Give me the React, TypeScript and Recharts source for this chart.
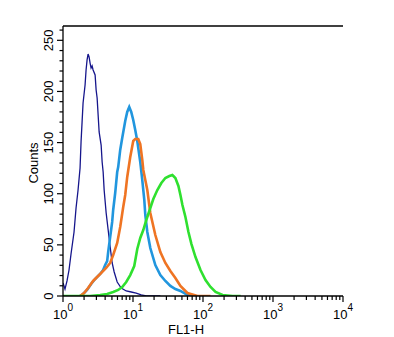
import React from "react";
import { LineChart, Line, XAxis, YAxis, ReferenceLine } from "recharts";

// FL1-H axis ticks (log decades with minors) and count ticks
const xTicks = [
  1, 2, 3, 4, 5, 6, 7, 8, 9,
  10, 20, 30, 40, 50, 60, 70, 80, 90,
  100, 200, 300, 400, 500, 600, 700, 800, 900,
  1000, 2000, 3000, 4000, 5000, 6000, 7000, 8000, 9000,
  10000,
];
const yTicks = [0, 10, 20, 30, 40, 50, 60, 70, 80, 90, 100, 110, 120, 130, 140, 150, 160, 170, 180, 190, 200, 210, 220, 230, 240, 250, 260];

// navy (thin) histogram
const navyFl1 = [1.0, 1.034, 1.068, 1.141, 1.219, 1.302, 1.438, 1.536, 1.641, 1.753, 1.812, 1.873, 1.935, 2.067, 2.136, 2.208, 2.282, 2.359, 2.438, 2.52, 2.605, 2.692, 2.876, 2.973, 3.073, 3.176, 3.282, 3.506, 3.624, 3.746, 3.871, 4.136, 4.418, 4.719, 5.041, 5.385, 5.946, 6.785, 8.0, 9.44, 11.1, 13.1, 15.5, 24.6];
const navyCounts = [12.7, 9.8, 6.8, 14.7, 25.4, 41.1, 62.6, 86, 103.6, 125.2, 151, 170, 188.7, 206.3, 221, 230.8, 236.6, 233.7, 227.8, 222.9, 224.9, 221, 216.1, 201.4, 193.6, 177, 160.4, 147.6, 131, 121.2, 103.6, 81.2, 64.5, 47.9, 32.3, 23.5, 13.7, 7.8, 4.9, 3.9, 2.9, 1.0, 0, 0];

// light blue histogram
const blueFl1 = [1.753, 1.935, 2.208, 2.52, 2.876, 3.392, 3.746, 4.001, 4.274, 4.418, 4.719, 5.041, 5.21, 5.566, 5.946, 6.145, 6.565, 7.013, 7.743, 8.271, 8.838, 9.436, 10.08, 10.77, 11.51, 12.7, 13.57, 14.5, 14.99, 16.01, 17.67, 20.84, 24.59, 29.0, 34.2, 40.3, 47.6, 59.95, 78.1];
const blueCounts = [0, 2.0, 5.9, 11.7, 16.6, 21.5, 25.4, 30.3, 34.2, 43, 57.7, 72.4, 84.1, 100.7, 121.2, 126.1, 142.8, 154.5, 171.1, 179.9, 184.8, 179.9, 172.1, 162.3, 151.6, 131, 113.4, 93.9, 79.2, 62.6, 46.9, 30.3, 20.5, 14.7, 9.8, 6.8, 4.9, 1.0, 0];

// orange histogram
const orangeFl1 = [1.753, 2.0, 2.282, 2.692, 3.392, 4.136, 4.719, 5.21, 5.946, 6.565, 7.248, 7.743, 8.271, 9.133, 10.08, 10.77, 11.89, 12.7, 13.57, 14.03, 14.99, 16.01, 17.67, 20.84, 24.59, 29.0, 34.2, 40.3, 47.6, 59.95, 83.4, 128.1];
const orangeCounts = [0, 2.9, 7.8, 14.7, 21.5, 27.4, 32.3, 40.1, 51.8, 67.5, 87.0, 98.8, 116.4, 135.9, 151.6, 153.5, 153.5, 148.6, 133, 123.2, 113.4, 103.6, 81.2, 59.6, 43, 32.3, 24.4, 17.6, 9.8, 2.9, 0, 0];

// green histogram
const greenFl1 = [1.0, 2.438, 3.392, 4.274, 5.21, 6.145, 7.013, 8.002, 9.133, 10.42, 11.51, 12.7, 14.03, 15.49, 17.1, 19.51, 22.27, 25.41, 29.0, 33.09, 36.53, 40.3, 44.53, 47.6, 50.82, 56.1, 61.96, 68.41, 78.1, 92.1, 108.6, 128.1, 151.1, 190.4, 264.8, 344.9];
const greenCounts = [0, 0, 1, 2, 3.9, 5.9, 8.8, 13.7, 20.5, 29.3, 46, 56.7, 64.5, 74.3, 83.1, 94.8, 103.6, 110.5, 115.4, 117.3, 118.3, 115.4, 107.6, 98.8, 89.0, 77.2, 62.6, 50.8, 38.1, 25.4, 15.6, 8.8, 3.9, 1.0, 0, 0];

const toPoints = (xs: number[], ys: number[]) => xs.map((x, i) => ({ fl1: x, count: ys[i] }));

const FONT = "'Liberation Sans', Arial, Helvetica, sans-serif";

function XTick(props: any) {
  const { x, y, payload } = props;
  const exp = Math.log10(payload.value);
  const major = Math.abs(exp - Math.round(exp)) < 1e-6;
  return (
    <g>
      <line x1={x} x2={x} y1={y} y2={y + (major ? 6 : 4)} stroke="#000" strokeWidth={1.2} />
      {major && (
        <text x={x} y={y + 23} textAnchor="middle" fontSize={13} fontFamily={FONT} fill="#000">
          <tspan>10</tspan>
          <tspan dy={-8} fontSize={10}>{Math.round(exp)}</tspan>
        </text>
      )}
    </g>
  );
}

function YTick(props: any) {
  const { x, y, payload } = props;
  const major = payload.value % 50 === 0;
  return (
    <g>
      <line x1={x} x2={x - (major ? 6 : 3.5)} y1={y} y2={y} stroke="#000" strokeWidth={1.2} />
      {major && (
        <text
          x={x - 10}
          y={y}
          textAnchor="middle"
          fontSize={13}
          fontFamily={FONT}
          fill="#000"
          transform={`rotate(-90, ${x - 10}, ${y})`}
        >
          {payload.value}
        </text>
      )}
    </g>
  );
}

export default function App() {
  return (
    <div style={{ position: "absolute", left: 0, top: 0, width: 394, height: 337, background: "#fff" }}>
      <LineChart width={394} height={337} margin={{ top: 26, right: 51, bottom: 11, left: 0 }}>
        <XAxis
          dataKey="fl1"
          type="number"
          scale="log"
          domain={[1, 10000]}
          ticks={xTicks}
          interval={0}
          height={30}
          allowDataOverflow
          tick={<XTick />}
          tickLine={false}
          tickSize={0}
          tickMargin={0}
          axisLine={{ stroke: "#000", strokeWidth: 1.3 }}
        />
        <YAxis
          type="number"
          domain={[0, 264]}
          ticks={yTicks}
          interval={0}
          width={63}
          allowDataOverflow
          tick={<YTick />}
          tickLine={false}
          tickSize={0}
          tickMargin={0}
          axisLine={{ stroke: "#000", strokeWidth: 1.3 }}
        />
        <ReferenceLine y={264} stroke="#000" strokeWidth={1.3} />
        <Line data={toPoints(navyFl1, navyCounts)} dataKey="count" type="linear" stroke="#16168c" strokeWidth={1.3} dot={false} isAnimationActive={false} />
        <Line data={toPoints(blueFl1, blueCounts)} dataKey="count" type="linear" stroke="#2196de" strokeWidth={2.6} dot={false} isAnimationActive={false} />
        <Line data={toPoints(orangeFl1, orangeCounts)} dataKey="count" type="linear" stroke="#ef7423" strokeWidth={2.6} dot={false} isAnimationActive={false} />
        <Line data={toPoints(greenFl1, greenCounts)} dataKey="count" type="linear" stroke="#2fe02f" strokeWidth={2.6} dot={false} isAnimationActive={false} />
        <text x={38} y={163} textAnchor="middle" fontSize={13} fontFamily={FONT} fill="#000" transform="rotate(-90, 38, 163)">
          Counts
        </text>
        <text x={186} y={334} textAnchor="middle" fontSize={13} fontFamily={FONT} fill="#000">
          FL1-H
        </text>
      </LineChart>
    </div>
  );
}
